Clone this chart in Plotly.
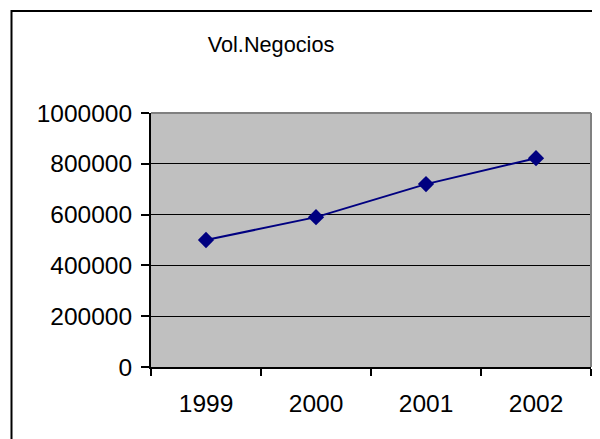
import plotly.graph_objects as go

years = ["1999", "2000", "2001", "2002"]
volume = [500000, 590000, 720000, 822000]
y_ticks = [0, 200000, 400000, 600000, 800000, 1000000]
title_text = "Vol.Negocios"

OFF = 8  # browser default body margin
W, H = 600 - OFF, 439 - OFF
L, R, T, B = 151 - OFF, 9, 113 - OFF, 72
pw, ph = W - L - R, H - T - B

def px_x(p):
    return (p - OFF - L) / pw

def px_y(p):
    return (H - B - (p - OFF)) / ph

FONT = "Arial, Liberation Sans, sans-serif"
TICK_SIZE = 24.5

fig = go.Figure()
fig.add_trace(go.Scatter(
    x=years, y=volume, mode="lines+markers",
    line=dict(color="#000080", width=2),
    marker=dict(symbol="diamond", size=12.5, color="#000080"),
    showlegend=False, cliponaxis=False,
))

fig.update_layout(
    width=W, height=H,
    margin=dict(l=L, r=R, t=T, b=B, pad=0),
    paper_bgcolor="white", plot_bgcolor="#C0C0C0",
    font=dict(family=FONT, size=TICK_SIZE, color="black"),
    title=dict(text=title_text, xref="container", yref="container",
               x=(271 - OFF) / W, xanchor="center",
               y=1 - (44 - OFF) / H, yanchor="middle",
               font=dict(family=FONT, size=21.7, color="black")),
    xaxis=dict(type="category", tickson="boundaries", ticks="outside",
               ticklen=7, tickwidth=2, tickcolor="black",
               showgrid=False, showline=True, linecolor="black", linewidth=2,
               tickfont=dict(size=TICK_SIZE), ticklabelstandoff=14,
               range=[-0.5, 3.5], fixedrange=True),
    yaxis=dict(range=[0, 1000000], tickvals=y_ticks,
               ticktext=[str(v) for v in y_ticks],
               ticks="outside", ticklen=8, tickwidth=2, tickcolor="black",
               showgrid=True, gridcolor="black", gridwidth=1,
               showline=True, linecolor="black", linewidth=2,
               zeroline=False, tickfont=dict(size=TICK_SIZE),
               ticklabelstandoff=4, fixedrange=True),
    shapes=[
        dict(type="line", xref="paper", yref="paper", x0=0, x1=1, y0=1, y1=1,
             line=dict(color="#808080", width=2), layer="above"),
        dict(type="line", xref="paper", yref="paper", x0=1, x1=1, y0=0, y1=1,
             line=dict(color="#808080", width=2), layer="above"),
        dict(type="rect", xref="paper", yref="paper",
             x0=px_x(11.5), x1=px_x(610), y0=px_y(11), y1=px_y(450),
             line=dict(color="black", width=2), layer="above"),
    ],
)

fig.write_html("out.html")
